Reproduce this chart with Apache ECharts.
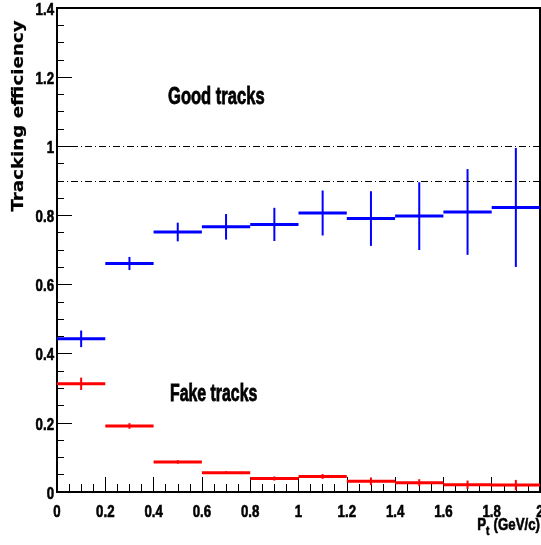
<!DOCTYPE html>
<html>
<head>
<meta charset="utf-8">
<script src="https://cdn.jsdelivr.net/npm/echarts@6/dist/echarts.min.js"></script>
<style>
html,body{margin:0;padding:0;background:#fff;}
#main{width:541px;height:545px;}
</style>
</head>
<body>
<div id="main"></div>
<script>
// ---- data ----
var binEdges = [0, 0.2, 0.4, 0.6, 0.8, 1.0, 1.2, 1.4, 1.6, 1.8, 2.0];
var goodEff = [0.443, 0.661, 0.752, 0.767, 0.774, 0.807, 0.791, 0.798, 0.810, 0.823];
var goodErr = [0.024, 0.019, 0.027, 0.037, 0.048, 0.065, 0.079, 0.098, 0.124, 0.172];
var fakeEff = [0.313, 0.191, 0.087, 0.056, 0.039, 0.045, 0.031, 0.027, 0.021, 0.020];
var fakeErr = [0.018, 0.008, 0.005, 0.004, 0.006, 0.007, 0.011, 0.010, 0.012, 0.015];
var refLines = [1.0, 0.9];
var xTickValues = [0, 0.2, 0.4, 0.6, 0.8, 1, 1.2, 1.4, 1.6, 1.8, 2];
var xTickLabels = ['0', '0.2', '0.4', '0.6', '0.8', '1', '1.2', '1.4', '1.6', '1.8', '2'];
var yTickValues = [0, 0.2, 0.4, 0.6, 0.8, 1, 1.2, 1.4];
var yTickLabels = ['0', '0.2', '0.4', '0.6', '0.8', '1', '1.2', '1.4'];
var xTitle = 'P';
var xTitleSub = 't';
var xTitleRest = '(GeV/c)';
var yTitle = 'Tracking efficiency';
var goodLabel = 'Good tracks';
var fakeLabel = 'Fake tracks';

function buildData(vals, errs) {
  var out = [];
  for (var i = 0; i < vals.length; i++) {
    out.push([binEdges[i], binEdges[i + 1], vals[i], errs[i]]);
  }
  return out;
}

function makeRender(color) {
  return function (params, api) {
    var lo = api.value(0), hi = api.value(1), y = api.value(2), e = api.value(3);
    var xc = (lo + hi) / 2;
    var pLo = api.coord([lo, y]);
    var pHi = api.coord([hi, y]);
    var pTop = api.coord([xc, y + e]);
    var pBot = api.coord([xc, y - e]);
    return {
      type: 'group',
      children: [
        { type: 'line', shape: { x1: pLo[0], y1: pLo[1], x2: pHi[0], y2: pHi[1] },
          style: { stroke: color, lineWidth: 3 } },
        { type: 'line', shape: { x1: pTop[0], y1: pTop[1], x2: pBot[0], y2: pBot[1] },
          style: { stroke: color, lineWidth: 2 } }
      ]
    };
  };
}

var FONT = '"Liberation Sans", Arial, sans-serif';
var NARROW = 0.78;

var chart = echarts.init(document.getElementById('main'), null, { renderer: 'canvas' });
chart.setOption({
  animation: false,
  backgroundColor: '#fff',
  grid: { left: 57, right: 1, top: 8, bottom: 53, outerBoundsMode: 'none', containLabel: false,
          show: true, borderColor: '#000', borderWidth: 2, backgroundColor: 'transparent' },
  xAxis: {
    type: 'value', min: 0, max: 2, interval: 0.2,
    axisLine: { show: true, onZero: false, lineStyle: { color: '#000', width: 2 } },
    axisTick: { show: true, inside: true, length: 15, lineStyle: { color: '#000', width: 1 } },
    minorTick: { show: true, splitNumber: 4, length: 8, lineStyle: { color: '#000', width: 1 } },
    splitLine: { show: false },
    axisLabel: { show: false }
  },
  yAxis: {
    type: 'value', min: 0, max: 1.4, interval: 0.2,
    axisLine: { show: true, onZero: false, lineStyle: { color: '#000', width: 2 } },
    axisTick: { show: true, inside: true, length: 15, lineStyle: { color: '#000', width: 1 } },
    minorTick: { show: true, splitNumber: 4, length: 7, lineStyle: { color: '#000', width: 1 } },
    splitLine: { show: false },
    axisLabel: { show: false }
  },
  series: [
    {
      type: 'line', data: [], silent: true,
      markLine: {
        silent: true, symbol: ['none', 'none'], label: { show: false },
        lineStyle: { color: '#000', width: 1, type: [7, 3, 1, 3] },
        data: refLines.map(function (v) { return { yAxis: v }; })
      }
    },
    { type: 'custom', name: 'Good', renderItem: makeRender('#0000ff'), data: buildData(goodEff, goodErr), clip: true },
    { type: 'custom', name: 'Fake', renderItem: makeRender('#ff0000'), data: buildData(fakeEff, fakeErr), clip: true }
  ]
});

function txt(o) {
  o.style.fill = '#000';
  o.style.stroke = '#000';
  o.style.lineWidth = o.style.lineWidth || 0.6;
  return o;
}

// tick labels placed through the axis scales (condensed look)
var g = [];
xTickValues.forEach(function (v, i) {
  var p = chart.convertToPixel({ gridIndex: 0 }, [v, 0]);
  g.push(txt({ type: 'text', x: p[0], y: p[1] + 20, scaleX: NARROW,
    style: { text: xTickLabels[i], font: 'bold 17px ' + FONT, textAlign: 'center', textVerticalAlign: 'middle' } }));
});
yTickValues.forEach(function (v, i) {
  var p = chart.convertToPixel({ gridIndex: 0 }, [0, v]);
  g.push(txt({ type: 'text', x: p[0] - 3, y: p[1] + 2, scaleX: NARROW,
    style: { text: yTickLabels[i], font: 'bold 17px ' + FONT, textAlign: 'right', textVerticalAlign: 'middle' } }));
});
g.push(
  txt({ type: 'text', x: 168, y: 97, scaleX: 0.69,
    style: { text: goodLabel, font: 'bold 24px ' + FONT, textAlign: 'left', textVerticalAlign: 'middle', lineWidth: 0.8 } }),
  txt({ type: 'text', x: 170, y: 395, scaleX: 0.69,
    style: { text: fakeLabel, font: 'bold 23px ' + FONT, textAlign: 'left', textVerticalAlign: 'middle', lineWidth: 0.8 } }),
  txt({ type: 'text', x: 19, y: 116, rotation: Math.PI / 2, scaleX: 1.14,
    style: { text: yTitle, font: 'bold 16px "DejaVu Sans", sans-serif', textAlign: 'center', textVerticalAlign: 'middle', lineWidth: 0.2 } }),
  txt({ type: 'text', x: 540, y: 525, scaleX: NARROW,
    style: { text: xTitleRest, font: 'bold 17px ' + FONT, textAlign: 'right', textVerticalAlign: 'middle' } }),
  txt({ type: 'text', x: 486, y: 531, scaleX: NARROW,
    style: { text: xTitleSub, font: 'bold 13px ' + FONT, textAlign: 'left', textVerticalAlign: 'middle' } }),
  txt({ type: 'text', x: 486, y: 525, scaleX: NARROW,
    style: { text: xTitle, font: 'bold 17px ' + FONT, textAlign: 'right', textVerticalAlign: 'middle' } })
);
chart.setOption({ graphic: g });
</script>
</body>
</html>
